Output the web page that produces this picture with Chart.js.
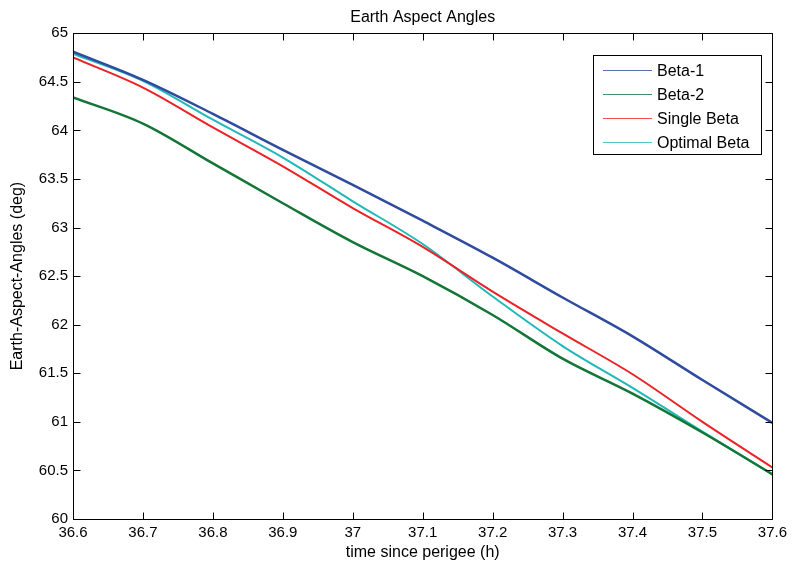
<!DOCTYPE html>
<html>
<head>
<meta charset="utf-8">
<script src="https://cdn.jsdelivr.net/npm/chart.js@4.4.1/dist/chart.umd.min.js"></script>
<style>
  html, body { margin: 0; padding: 0; background: #fff; }
  #wrap { width: 792px; height: 565px; }
</style>
</head>
<body>
<div id="wrap"><canvas id="eaa"></canvas></div>
<script>
// time since perigee (h)
const timeH = [36.6, 36.7, 36.8, 36.9, 37.0, 37.1, 37.2, 37.3, 37.4, 37.5, 37.6];
// earth aspect angles (deg)
const beta1 = [64.81, 64.52, 64.17, 63.80, 63.44, 63.07, 62.69, 62.28, 61.88, 61.43, 60.99];
const beta2 = [64.34, 64.07, 63.66, 63.25, 62.85, 62.50, 62.10, 61.65, 61.29, 60.89, 60.46];
const singleBeta = [64.75, 64.44, 64.03, 63.63, 63.20, 62.80, 62.34, 61.91, 61.49, 61.00, 60.53];
const optimalBeta = [64.79, 64.51, 64.11, 63.72, 63.27, 62.83, 62.29, 61.78, 61.35, 60.90, 60.46];

const xTicks = [36.6, 36.7, 36.8, 36.9, 37, 37.1, 37.2, 37.3, 37.4, 37.5, 37.6];
const yTicks = [60, 60.5, 61, 61.5, 62, 62.5, 63, 63.5, 64, 64.5, 65];

const seriesNames = ["Beta-1", "Beta-2", "Single Beta", "Optimal Beta"];
const seriesColors = ["#2f4ba0", "#137637", "#ec2226", "#22b8b8"];
const seriesValues = [beta1, beta2, singleBeta, optimalBeta];

const FONT = "'Liberation Sans', Arial, sans-serif";

function points(vals) {
    return vals.map((v, i) => ({ x: timeH[i], y: v }));
}

// MATLAB-like box with inward ticks plus the boxed legend
const axesBox = {
    id: "axesBox",
    afterDraw(chart) {
        const { ctx, chartArea: a, scales } = chart;
        const L = Math.round(a.left) + 0.5, R = Math.round(a.right) + 0.5;
        const T = Math.round(a.top) + 0.5, B = Math.round(a.bottom) + 0.5;
        ctx.save();
        ctx.strokeStyle = "#000";
        ctx.lineWidth = 1;
        ctx.beginPath();
        ctx.rect(L, T, R - L, B - T);
        xTicks.forEach(v => {
            const px = Math.round(scales.x.getPixelForValue(v)) + 0.5;
            ctx.moveTo(px, B); ctx.lineTo(px, B - 7);
            ctx.moveTo(px, T); ctx.lineTo(px, T + 7);
        });
        yTicks.forEach(v => {
            const py = Math.round(scales.y.getPixelForValue(v)) + 0.5;
            ctx.moveTo(L, py); ctx.lineTo(L + 7, py);
            ctx.moveTo(R, py); ctx.lineTo(R - 7, py);
        });
        ctx.stroke();

        // legend
        const lx = 593.5, ly = 55.5, lw = 168, lh = 99;
        ctx.fillStyle = "#fff";
        ctx.fillRect(lx, ly, lw, lh);
        ctx.strokeRect(lx, ly, lw, lh);
        ctx.font = "16px " + FONT;
        ctx.textBaseline = "middle";
        ctx.textAlign = "left";
        seriesNames.forEach((name, i) => {
            const yy = 70.5 + i * 24;
            ctx.strokeStyle = seriesColors[i];
            ctx.globalAlpha = 0.8;
            ctx.beginPath();
            ctx.moveTo(603, yy); ctx.lineTo(652, yy);
            ctx.stroke();
            ctx.globalAlpha = 1;
            ctx.fillStyle = "#000";
            ctx.fillText(name, 657, yy + 1);
        });
        ctx.restore();
    }
};

const ctx = document.getElementById("eaa").getContext("2d");
new Chart(ctx, {
    type: "line",
    data: {
        datasets: seriesNames.map((name, i) => ({
            label: name,
            data: points(seriesValues[i]),
            borderColor: seriesColors[i],
            borderWidth: i < 2 ? 2.5 : 2,
            pointRadius: 0,
            cubicInterpolationMode: "monotone",
            fill: false
        }))
    },
    options: {
        responsive: true,
        maintainAspectRatio: false,
        animation: false,
        layout: { padding: { top: 0, right: 18, bottom: 0, left: 0 } },
        plugins: {
            legend: { display: false },
            tooltip: { enabled: false },
            title: {
                display: true,
                text: "Earth Aspect Angles",
                fullSize: false,
                color: "#000",
                font: { family: FONT, size: 16, weight: "normal" },
                padding: { top: 8, bottom: 6 }
            }
        },
        scales: {
            x: {
                type: "linear",
                min: 36.6,
                max: 37.6,
                afterFit(scale) { scale.height = 46; },
                afterBuildTicks(scale) { scale.ticks = xTicks.map(v => ({ value: v })); },
                grid: { display: false, drawTicks: false },
                border: { display: false },
                ticks: {
                    color: "#000",
                    padding: 5,
                    maxRotation: 0,
                    autoSkip: false,
                    font: { family: FONT, size: 15 },
                    callback: v => String(Number(v.toFixed(1)))
                },
                title: {
                    display: true,
                    text: "time since perigee (h)",
                    color: "#000",
                    font: { family: FONT, size: 16 },
                    padding: { top: 3, bottom: 3 }
                }
            },
            y: {
                min: 60,
                max: 65,
                afterFit(scale) { scale.width = 73; },
                afterBuildTicks(scale) { scale.ticks = yTicks.map(v => ({ value: v })); },
                grid: { display: false, drawTicks: false },
                border: { display: false },
                ticks: {
                    color: "#000",
                    padding: 5,
                    autoSkip: false,
                    font: { family: FONT, size: 15 },
                    callback: v => String(Number(v.toFixed(1)))
                },
                title: {
                    display: true,
                    text: "Earth-Aspect-Angles (deg)",
                    color: "#000",
                    font: { family: FONT, size: 16 },
                    padding: { top: 8, bottom: 8 }
                }
            }
        }
    },
    plugins: [axesBox]
});
</script>
</body>
</html>
